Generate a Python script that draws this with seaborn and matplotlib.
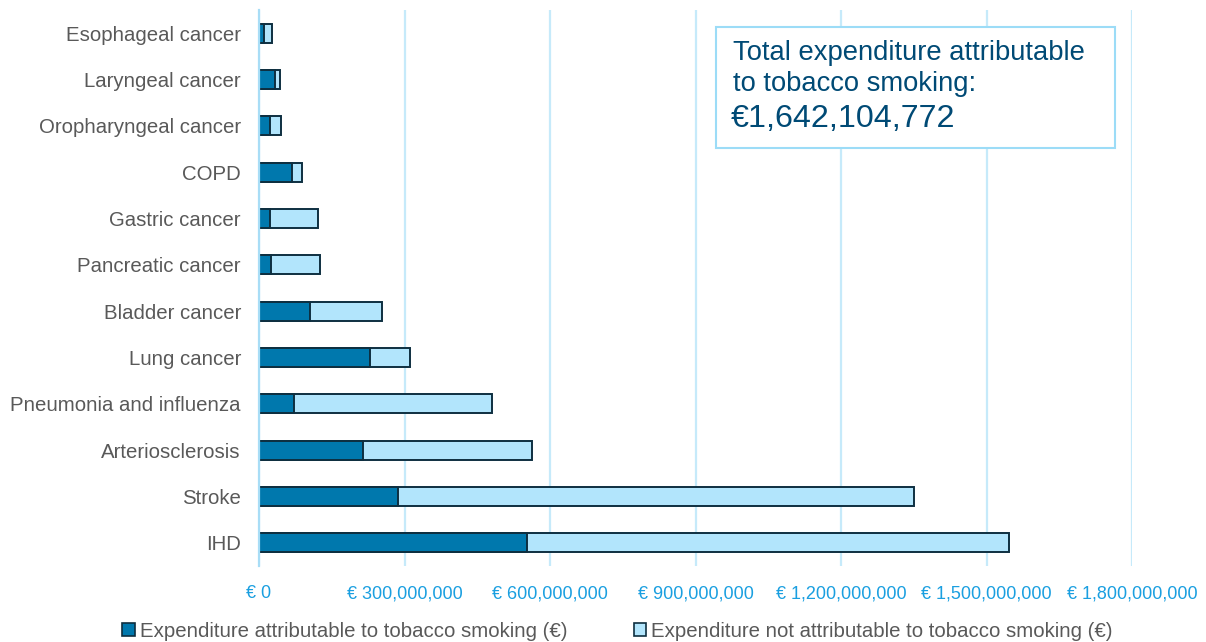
import matplotlib
matplotlib.use("Agg")
import matplotlib.pyplot as plt
import seaborn as sns
import pandas as pd
from matplotlib.patches import Patch, Rectangle
from matplotlib.ticker import FixedLocator

# ---- data (euros) ----
categories = ["Esophageal cancer", "Laryngeal cancer", "Oropharyngeal cancer", "COPD",
              "Gastric cancer", "Pancreatic cancer", "Bladder cancer", "Lung cancer",
              "Pneumonia and influenza", "Arteriosclerosis", "Stroke", "IHD"]
attributable = [11e6, 33e6, 22e6, 68e6, 22e6, 25e6, 105e6, 229e6, 73e6, 215e6, 287e6, 553e6]
total = [26e6, 43e6, 46e6, 89e6, 121e6, 125e6, 254e6, 311e6, 480e6, 563e6, 1350e6, 1546e6]
xticks = [0, 300e6, 600e6, 900e6, 1200e6, 1500e6, 1800e6]
xtick_labels = ["€ 0", "€ 300,000,000", "€ 600,000,000", "€ 900,000,000",
                "€ 1,200,000,000", "€ 1,500,000,000", "€ 1,800,000,000"]
legend_labels = ["Expenditure attributable to tobacco smoking (€)",
                 "Expenditure not attributable to tobacco smoking (€)"]
box_lines = ["Total expenditure attributable", "to tobacco smoking:", "€1,642,104,772"]

df = pd.DataFrame({"category": categories, "attributable": attributable, "total": total})

DARK = "#0078AD"
LIGHT = "#B2E5FC"
EDGE = "#0E2F40"
GRID = "#C6EAFA"
TICK = "#1A9FE0"
LABEL = "#595959"
BOXTXT = "#004A75"

sns.set_theme(style="white")
plt.rcParams["font.family"] = ["Liberation Sans", "DejaVu Sans"]

fig = plt.figure(figsize=(12.06, 6.42), dpi=100)
ax = fig.add_axes([259 / 1206, 1 - 566 / 642, (1132 - 259) / 1206, (566 - 10) / 642])

sns.barplot(data=df, x="total", y="category", orient="h", color=LIGHT, width=0.41,
            edgecolor=EDGE, linewidth=1.4, saturation=1, ax=ax, zorder=3)
sns.barplot(data=df, x="attributable", y="category", orient="h", color=DARK, width=0.41,
            edgecolor=EDGE, linewidth=1.4, saturation=1, ax=ax, zorder=4)

ax.set_xlim(0, 1800e6)
ax.set_ylim(11.5, -0.5)
ax.xaxis.set_major_locator(FixedLocator(xticks))
ax.set_xticklabels(xtick_labels)
ax.grid(axis="x", color=GRID, linewidth=1.6, zorder=0)
ax.grid(axis="y", visible=False)
ax.set_axisbelow(True)
for s in ["top", "right", "bottom"]:
    ax.spines[s].set_visible(False)
ax.spines["left"].set_color("#A8DDF6")
ax.spines["left"].set_linewidth(1.6)
ax.spines["left"].set_zorder(5)
ax.set_xlabel("")
ax.set_ylabel("")
ax.tick_params(axis="x", length=0, pad=14, labelsize=13, labelcolor=TICK)
ax.tick_params(axis="y", length=0, pad=13, labelsize=14.7, labelcolor=LABEL)

# legend
handles = [Patch(facecolor=DARK, edgecolor=EDGE, linewidth=1.2),
           Patch(facecolor=LIGHT, edgecolor=EDGE, linewidth=1.2)]
leg = fig.legend(handles, legend_labels, loc="center", bbox_to_anchor=(0.512, 0.017),
                 ncol=2, frameon=False, handlelength=0.6, handleheight=0.6,
                 handletextpad=0.25, columnspacing=3.25,
                 prop={"size": 14.7})
for t in leg.get_texts():
    t.set_color(LABEL)

# annotation box
fig.add_artist(Rectangle((716 / 1206, 1 - 148 / 642), 399 / 1206, 121 / 642,
                         transform=fig.transFigure, facecolor="white",
                         edgecolor="#9CDCF7", linewidth=1.5, zorder=10))
fig.text(733 / 1206, 1 - 60 / 642, box_lines[0], fontsize=19.7, color=BOXTXT,
         va="baseline", ha="left", zorder=11)
fig.text(733 / 1206, 1 - 91 / 642, box_lines[1], fontsize=19.7, color=BOXTXT,
         va="baseline", ha="left", zorder=11)
fig.text(731 / 1206, 1 - 127 / 642, box_lines[2], fontsize=23.2, color=BOXTXT,
         va="baseline", ha="left", zorder=11)

fig.savefig("out.png", dpi=100)
